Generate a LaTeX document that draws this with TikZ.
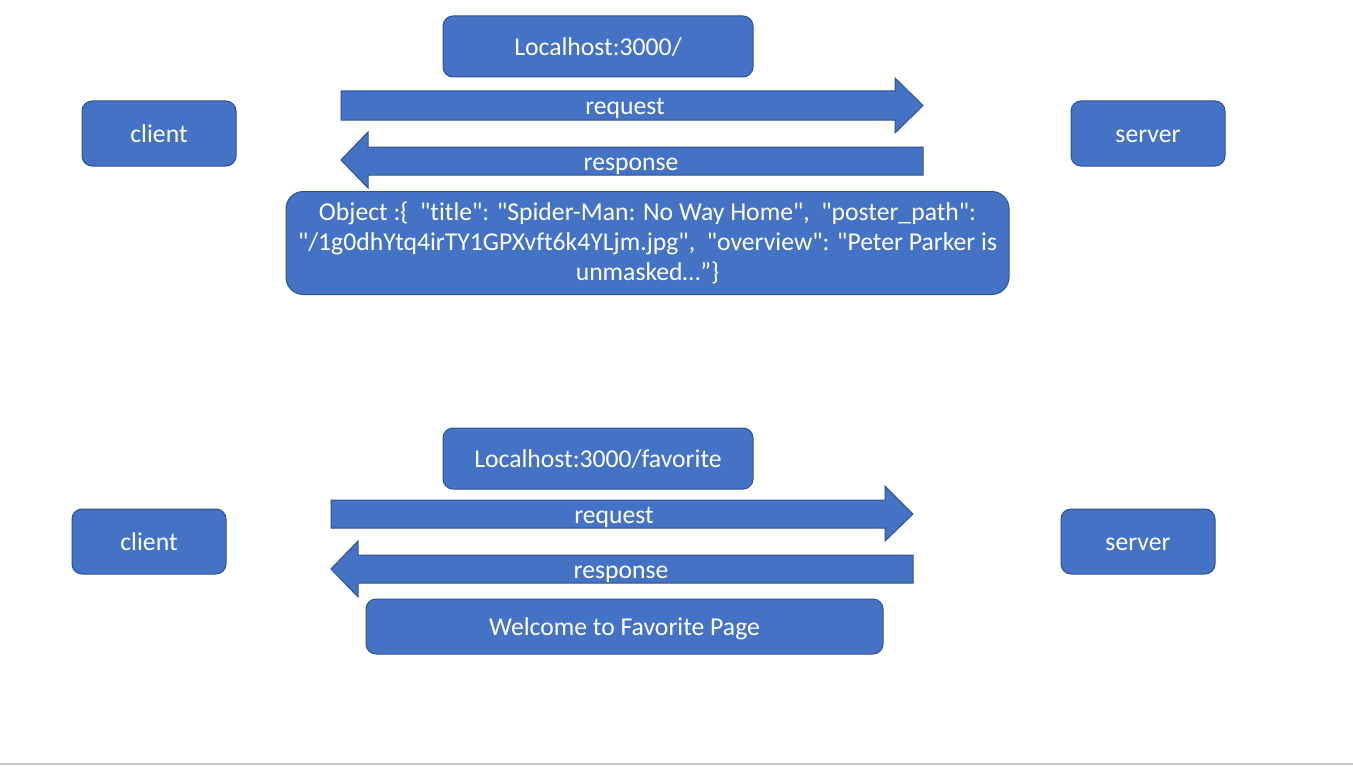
\documentclass[tikz,border=0pt]{standalone}
\usepackage{fontspec}
\setmainfont{Carlito}[Ligatures={TeXOff,NoCommon}]
\definecolor{fillblue}{HTML}{4472C4}
\definecolor{edgeblue}{HTML}{2F528F}
\definecolor{rulegray}{HTML}{C6C6C6}
\newcommand{\dq}{\symbol{34}}
\begin{document}
\begin{tikzpicture}[x=0.75pt,y=-0.75pt,
  box/.style={draw=edgeblue, fill=fillblue, line width=0.75pt, rounded corners=7.5pt,
    text=white, inner sep=0pt, font=\fontsize{19.25}{22.5}\selectfont, align=center},
  onebox/.style={box, text height=17pt, text depth=3pt},
  blockarrow/.style={draw=edgeblue, fill=fillblue, line width=0.75pt},
  lbl/.style={text=white, inner sep=0pt, font=\fontsize{19.25}{22.5}\selectfont,
    text height=17pt, text depth=3pt}]
\useasboundingbox (0,0) rectangle (1353,767);
\fill[white] (0,0) rectangle (1353,767);
\draw[rulegray, line width=1.2pt] (0,764) -- (1353,764);

% top diagram
\node[onebox, minimum width=232.5pt, minimum height=45.75pt] (t1) at (598,46.5) {Localhost:3000/};
\node[onebox, minimum width=115.5pt, minimum height=48.75pt] (c1) at (159,133.5) {client};
\node[onebox, minimum width=115.5pt, minimum height=48.75pt] (s1) at (1148,133.5) {server};
\draw[blockarrow] (341,91) -- (895,91) -- (895,78) -- (923,105.5) -- (895,133) -- (895,120) -- (341,120) -- cycle;
\node[lbl] (rq1) at (625,105.5) {request};
\draw[blockarrow] (923,147) -- (368,147) -- (368,132) -- (341,160) -- (368,188) -- (368,175) -- (923,175) -- cycle;
\node[lbl] (rs1) at (631,161) {response};
\node[box, rounded corners=13pt, minimum width=542.25pt, minimum height=77.25pt] (obj) at (647.5,243)
  {Object :\{\ \ \dq title\dq: \dq Spider-Man: No Way Home\dq,\ \ \dq poster\_path\dq:\\
   \dq/1g0dhYtq4irTY1GPXvft6k4YLjm.jpg\dq,\ \ \dq overview\dq: \dq Peter Parker is\\
   unmasked…”\}};

% bottom diagram
\node[onebox, minimum width=232.5pt, minimum height=45.75pt] (t2) at (598,458.5) {Localhost:3000/favorite};
\node[onebox, minimum width=115.5pt, minimum height=48.75pt] (c2) at (149,541.5) {client};
\node[onebox, minimum width=115.5pt, minimum height=48.75pt] (s2) at (1138,541.5) {server};
\draw[blockarrow] (331,500) -- (885,500) -- (885,486) -- (913,514) -- (885,541) -- (885,528) -- (331,528) -- cycle;
\node[lbl] (rq2) at (614,514) {request};
\draw[blockarrow] (913,555) -- (358,555) -- (358,541) -- (331,569) -- (358,597) -- (358,583) -- (913,583) -- cycle;
\node[lbl] (rs2) at (621,569) {response};
\node[onebox, minimum width=387.75pt, minimum height=41.25pt] (wel) at (624.5,626.5) {Welcome to Favorite Page};
\end{tikzpicture}
\end{document}
